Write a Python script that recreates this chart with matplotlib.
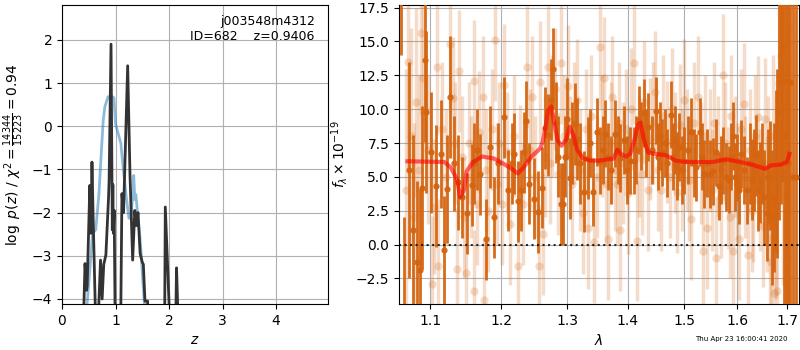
import matplotlib
matplotlib.use("Agg")
import matplotlib.pyplot as plt
from matplotlib.ticker import NullLocator
import numpy as np

# --- left panel: log p(z) (dark) and chi2 curve (blue)
z_pdf = [0.40, 0.41, 0.43, 0.46, 0.47, 0.52, 0.54, 0.56, 0.58, 0.62, 0.66, 0.72, 0.75, 0.78,
         0.82, 0.87, 0.88, 0.916, 0.94, 0.95, 0.96, 0.975, 0.99, 1.02, 1.10, 1.12, 1.15,
         1.227, 1.27, 1.32, 1.36, 1.39, 1.42, 1.46, 1.50, 1.52, 1.55, 1.60, 1.62, 1.90,
         1.92, 1.93, 2.00, 2.02, 2.12, 2.13, 2.14, 2.16, 2.18]
logp_pdf = [-6.0, -4.1, -3.18, -3.8, -3.7, -1.37, -2.48, -0.83, -2.0, -4.1, -5.0, -3.1, -4.0, -3.2,
            -2.98, -1.64, -1.26, 1.9, -2.4, -1.35, -2.48, -1.95, -4.1, -6.0, -4.1, -1.56, -2.0,
            1.4, -1.1, -3.1, -1.95, -2.3, -2.0, -2.95, -3.15, -3.2, -4.05, -4.05, -6.0, -6.0,
            -4.1, -1.87, -4.1, -6.0, -6.0, -4.1, -3.28, -4.1, -6.0]

z_chi = [0.47, 0.54, 0.57, 0.63, 0.69, 0.74, 0.77, 0.80, 0.86, 0.92, 0.97, 1.00, 1.05, 1.10,
         1.14, 1.20, 1.25, 1.28, 1.31, 1.34, 1.36, 1.38, 1.41, 1.45, 1.48, 1.51, 1.54, 1.56]
logp_chi = [-4.1, -3.0, -2.48, -2.4, -1.57, -0.49, 0.13, 0.45, 0.68, 0.70, 0.66, 0.05, -0.17, -0.4,
            -0.93, -1.63, -2.13, -2.13, -1.78, -1.14, -1.7, -1.58, -2.0, -2.48, -2.95, -3.6, -4.1, -6.0]

# --- right panel: binned spectrum
wave_bin = [1.062, 1.066, 1.072, 1.077, 1.083, 1.086, 1.089, 1.093, 1.095, 1.101, 1.108, 1.114,
            1.119, 1.123, 1.127, 1.132, 1.138, 1.144, 1.150, 1.157, 1.160, 1.165, 1.169, 1.178,
            1.184, 1.189, 1.195, 1.204, 1.210, 1.215, 1.219, 1.224, 1.229, 1.233, 1.237, 1.241,
            1.249, 1.254, 1.261, 1.265, 1.270, 1.275, 1.278, 1.282, 1.286, 1.291, 1.294, 1.297,
            1.300, 1.305, 1.308, 1.312, 1.316, 1.321, 1.327, 1.333, 1.337, 1.342, 1.348, 1.354,
            1.358, 1.362, 1.367, 1.371, 1.378, 1.383, 1.387, 1.394, 1.399, 1.404, 1.410, 1.414,
            1.419, 1.423, 1.427, 1.431, 1.435, 1.442, 1.449, 1.452, 1.456, 1.460, 1.464, 1.469,
            1.475, 1.479, 1.482, 1.486, 1.490, 1.495, 1.500, 1.506, 1.512, 1.517, 1.521, 1.528,
            1.532, 1.536, 1.541, 1.547, 1.553, 1.558, 1.564, 1.568, 1.572, 1.578, 1.583, 1.587,
            1.591, 1.596, 1.600, 1.604, 1.608, 1.613, 1.619, 1.624, 1.628, 1.633, 1.637, 1.641,
            1.645, 1.649, 1.653, 1.658, 1.662, 1.666, 1.670, 1.674, 1.677, 1.680, 1.683, 1.687,
            1.690, 1.694, 1.698, 1.702, 1.707, 1.712, 1.718]
flux_bin = [22.0, -8.0, 5.5, 1.1, -1.3, -1.9, 4.2, 13.6, 9.8, 6.8, 4.3, 6.7,
            -0.4, 4.1, 10.9, 6.0, 4.6, 3.5, 2.3, 4.4, 6.0, 7.0, 5.2, 0.4,
            7.2, 2.0, 6.0, 9.4, 4.0, 6.0, 6.7, 3.2, 4.0, 6.8, 9.1, 4.5,
            3.4, 2.4, 4.2, 8.6, 8.1, 10.7, 13.0, 9.0, 6.5, 3.0, 3.0, 6.5,
            9.3, 4.9, 7.5, 8.9, 7.8, 6.0, 3.9, 6.4, 7.5, 3.9, 8.3, 6.2,
            7.0, 8.2, 6.5, 5.5, 8.2, 7.0, 6.4, 7.7, 5.5, 6.2, 6.2, 7.0,
            9.2, 8.0, 9.7, 7.5, 8.7, 7.0, 9.9, 6.5, 8.0, 6.8, 7.5, 6.0,
            9.6, 6.5, 7.7, 5.8, 7.2, 5.5, 6.2, 7.0, 8.3, 6.0, 5.7, 8.3,
            6.5, 5.2, 6.0, 5.2, 5.4, 6.8, 4.3, 5.5, 6.2, 5.0, 4.8, 6.5,
            8.0, 5.0, 5.7, 4.0, 6.7, 5.5, 4.0, 6.0, 4.8, 5.5, 6.6, 4.0,
            4.6, 6.0, 3.5, 2.3, 5.0, 5.1, 2.0, 3.5, 5.4, 6.0, 9.8, 12.0,
            14.6, 8.0, 12.0, 6.0, 12.0, 5.0, 5.0]
err_bin = [8.0, 10.0, 8.0, 7.0, 6.0, 6.0, 6.0, 6.0, 6.0, 4.5, 4.5, 4.0,
           4.0, 4.0, 4.5, 3.5, 3.5, 3.0, 3.0, 3.0, 3.0, 3.0, 3.0, 3.0,
           3.0, 3.0, 3.0, 3.0, 3.0, 3.0, 3.0, 3.0, 3.0, 3.0, 3.0, 3.0,
           3.0, 3.0, 3.0, 3.0, 3.0, 3.0, 3.0, 3.0, 3.0, 3.0, 3.0, 3.0,
           3.0, 3.0, 3.0, 3.0, 3.0, 3.0, 3.0, 3.0, 2.5, 2.5, 2.5, 2.5,
           2.5, 2.5, 2.5, 2.5, 2.5, 2.5, 2.5, 2.5, 2.5, 2.5, 2.5, 2.5,
           2.5, 2.5, 2.5, 2.5, 2.5, 2.5, 2.5, 2.5, 2.5, 2.5, 2.5, 2.5,
           2.5, 2.5, 2.5, 2.5, 2.5, 2.5, 2.5, 2.5, 2.5, 2.5, 2.5, 2.5,
           2.5, 2.5, 2.5, 2.5, 2.5, 2.5, 2.5, 2.5, 2.5, 2.5, 2.5, 2.5,
           2.5, 2.5, 2.5, 2.5, 2.5, 2.5, 2.5, 3.0, 3.0, 3.0, 3.0, 3.0,
           3.0, 3.0, 3.5, 3.5, 3.5, 4.0, 5.0, 5.5, 6.0, 7.0, 8.0, 9.0,
           10.0, 14.0, 20.0, 20.0, 25.0, 30.0, 30.0]

# --- right panel: unbinned spectrum (pale)
wave_raw = [1.068, 1.071, 1.074, 1.078, 1.081, 1.085, 1.088, 1.091, 1.097, 1.103, 1.105, 1.109,
            1.111, 1.116, 1.121, 1.127, 1.131, 1.134, 1.137, 1.140, 1.143, 1.146, 1.149, 1.153,
            1.156, 1.160, 1.161, 1.165, 1.168, 1.173, 1.174, 1.177, 1.181, 1.186, 1.190, 1.193,
            1.197, 1.201, 1.204, 1.208, 1.213, 1.218, 1.224, 1.228, 1.232, 1.238, 1.242, 1.245,
            1.250, 1.256, 1.258, 1.262, 1.266, 1.270, 1.273, 1.277, 1.281, 1.285, 1.291, 1.295,
            1.301, 1.304, 1.307, 1.311, 1.316, 1.320, 1.326, 1.330, 1.334, 1.339, 1.344, 1.348,
            1.353, 1.357, 1.360, 1.364, 1.367, 1.371, 1.374, 1.378, 1.381, 1.385, 1.387, 1.391,
            1.396, 1.400, 1.405, 1.411, 1.415, 1.420, 1.424, 1.428, 1.434, 1.438, 1.443, 1.448,
            1.452, 1.457, 1.462, 1.469, 1.473, 1.478, 1.483, 1.487, 1.492, 1.496, 1.500, 1.505,
            1.509, 1.513, 1.518, 1.525, 1.530, 1.534, 1.538, 1.542, 1.547, 1.552, 1.556, 1.559,
            1.563, 1.568, 1.573, 1.577, 1.581, 1.585, 1.588, 1.591, 1.595, 1.599, 1.604, 1.607,
            1.613, 1.616, 1.620, 1.624, 1.628, 1.631, 1.635, 1.641, 1.645, 1.650, 1.655, 1.658,
            1.662, 1.665, 1.668, 1.671, 1.673, 1.677, 1.680, 1.684, 1.687, 1.691, 1.697, 1.700,
            1.703]
flux_raw = [4.0, 13.5, 8.0, 2.0, 10.5, 5.5, 15.6, 12.3, 7.0, -2.9, 2.8, 13.1,
            -1.6, 8.5, 5.0, 14.8, 10.8, 7.5, -1.8, 12.8, 6.5, 2.0, -2.1, 7.5,
            5.0, -3.4, 12.1, 3.0, 8.3, 10.9, -4.1, 5.5, 2.5, 8.5, 15.1, 4.5,
            7.5, 3.0, 11.8, 6.8, 1.5, 8.0, -1.6, 5.8, 3.0, 13.1, 7.0, 10.9,
            5.0, -1.6, 12.0, 0.8, 6.5, 13.1, 6.0, 9.5, 11.5, 5.2, 13.4, 8.0,
            11.7, 6.5, 4.5, 9.0, 10.7, 5.5, 2.3, 8.5, 1.2, 9.5, 0.2, 5.0,
            14.6, 8.0, 12.3, 4.5, 0.4, 7.5, 10.9, 5.5, 4.5, 9.0, 1.1, 6.0,
            8.5, 3.8, 10.0, 13.4, 0.3, 6.5, 5.2, 10.5, 4.0, 7.8, 9.0, 11.3,
            5.5, 4.0, 9.5, 7.6, 5.0, 10.0, 6.8, 3.9, 8.8, 5.5, 10.7, 7.0,
            4.8, 1.9, 9.0, 10.9, 6.0, -0.5, 8.0, 1.2, 7.0, 4.0, 9.0, -1.0,
            6.5, 3.5, 12.5, 7.5, 4.2, 2.0, 9.5, -0.5, 6.5, 4.5, 0.4, 8.5,
            10.4, 5.0, -0.8, 7.0, 2.5, 3.2, 8.0, 9.4, 4.0, 1.4, 9.3, 3.0,
            6.0, 0.5, -1.3, 8.0, -3.6, 3.0, -3.4, 11.9, 13.9, 7.0, 3.5, -0.9,
            16.0]
err_raw = [9.0, 8.0, 8.0, 7.0, 7.0, 7.0, 6.0, 6.0, 5.5, 5.0, 5.0, 5.0,
           5.0, 5.0, 5.0, 5.0, 4.5, 4.5, 4.5, 4.5, 4.5, 4.5, 4.5, 4.5,
           4.5, 4.5, 4.5, 4.5, 4.5, 4.5, 4.5, 4.5, 4.5, 4.5, 4.5, 4.5,
           4.5, 4.5, 4.5, 4.5, 4.5, 4.5, 4.5, 4.5, 4.5, 4.5, 4.5, 4.5,
           4.5, 4.5, 4.5, 4.5, 4.5, 4.5, 4.5, 4.5, 4.5, 4.5, 4.5, 4.5,
           4.5, 4.5, 4.5, 4.5, 4.5, 4.5, 4.5, 4.5, 4.5, 4.5, 4.5, 4.5,
           4.5, 4.5, 4.5, 4.5, 4.5, 4.5, 4.5, 4.5, 4.5, 4.5, 4.5, 4.5,
           4.5, 4.5, 4.5, 4.5, 4.5, 4.5, 4.5, 4.5, 4.5, 4.5, 4.5, 4.5,
           4.5, 4.5, 4.5, 4.5, 4.5, 4.5, 4.5, 4.5, 4.5, 4.5, 4.5, 4.5,
           4.5, 4.5, 4.5, 4.5, 4.5, 4.5, 4.5, 4.5, 4.5, 4.5, 4.5, 4.5,
           4.5, 4.5, 4.5, 4.5, 4.5, 4.5, 4.5, 4.5, 4.5, 4.5, 4.5, 4.5,
           4.5, 4.5, 4.5, 4.5, 4.5, 4.5, 4.5, 4.5, 4.5, 4.5, 4.5, 5.0,
           5.0, 5.5, 6.0, 6.0, 7.0, 7.0, 8.0, 8.0, 9.0, 10.0, 12.0, 12.0,
           14.0]

# --- best-fit model
wave_model = [1.070, 1.119, 1.128, 1.137, 1.141, 1.146, 1.150, 1.159, 1.172, 1.189, 1.202, 1.215,
              1.224, 1.233, 1.245, 1.258, 1.262, 1.267, 1.270, 1.275, 1.280, 1.285, 1.291, 1.299,
              1.304, 1.310, 1.316, 1.326, 1.337, 1.351, 1.368, 1.376, 1.382, 1.388, 1.397, 1.404,
              1.411, 1.418, 1.422, 1.428, 1.435, 1.448, 1.466, 1.484, 1.502, 1.528, 1.553, 1.578,
              1.605, 1.629, 1.655, 1.667, 1.686, 1.700, 1.705]
flux_model = [6.15, 6.1, 5.7, 4.75, 3.5, 4.0, 5.4, 6.1, 6.5, 6.35, 6.0, 5.6,
              5.25, 5.7, 6.5, 7.1, 7.6, 8.9, 9.9, 10.2, 8.9, 7.7, 7.3, 7.8,
              8.7, 8.1, 7.0, 6.35, 6.2, 6.2, 6.3, 6.35, 7.0, 6.7, 6.5, 6.7,
              7.7, 8.9, 9.0, 7.7, 6.8, 6.7, 6.6, 6.2, 6.1, 6.1, 6.1, 6.3,
              6.1, 5.9, 5.6, 5.85, 5.9, 6.1, 6.7]

lam_ticks = [1.1, 1.2, 1.3, 1.4, 1.5, 1.6, 1.7]
spec_color = "#d4640f"

fig = plt.figure(figsize=(8, 3.5), dpi=100)
ax1 = fig.add_axes([0.0775, 0.131, 0.3325, 0.855])
ax2 = fig.add_axes([0.49875, 0.131, 0.5, 0.855])

# left: redshift fit
ax1.plot(z_chi, logp_chi, color="C0", alpha=0.5, lw=2)
ax1.plot(z_pdf, logp_pdf, color="0.2", lw=2)
ax1.set_xlim(0, 4.97)
ax1.set_ylim(-4.12, 2.81)
ax1.set_xticks([0, 1, 2, 3, 4])
ax1.set_yticks([-4, -3, -2, -1, 0, 1, 2])
ax1.grid(True)
ax1.set_xlabel(r"$z$")
ax1.set_ylabel(r"$\log\ p(z)$ / $\chi^2=\frac{14344}{15223}=0.94$")
ax1.text(0.95, 0.965, "j003548m4312\nID=682    z=0.9406", ha="right", va="top",
         transform=ax1.transAxes, fontsize=9)

# right: 1D spectrum
ax2.errorbar(wave_raw, flux_raw, yerr=err_raw, fmt="o", color=spec_color, alpha=0.22,
             ms=6, mew=0, elinewidth=2.5, capsize=0, zorder=2)
ax2.errorbar(wave_bin, flux_bin, yerr=err_bin, fmt="o", color=spec_color, alpha=0.95,
             ms=4.5, mew=0, elinewidth=2.0, capsize=0, zorder=3)
ax2.plot(wave_model, flux_model, color="r", alpha=0.6, lw=3, zorder=4)
ax2.axhline(0, color="k", ls=":", lw=1.5, alpha=0.8, zorder=5)

ax2.set_xscale("log")
ax2.set_xlim(1.059, 1.725)
ax2.set_xticks(lam_ticks)
ax2.set_xticklabels([f"{t:.1f}" for t in lam_ticks])
ax2.xaxis.set_minor_locator(NullLocator())
ax2.set_ylim(-4.4, 17.7)
ax2.set_yticks(np.arange(-2.5, 17.6, 2.5))
ax2.grid(True)
ax2.set_axisbelow(True)
ax2.set_xlabel(r"$\lambda$")
ax2.set_ylabel(r"$f_\lambda\times10^{-19}$")

fig.text(0.984, 0.031, "Thu Apr 23 16:00:41 2020", ha="right", va="center", fontsize=5)

fig.savefig("out.png", dpi=100)
